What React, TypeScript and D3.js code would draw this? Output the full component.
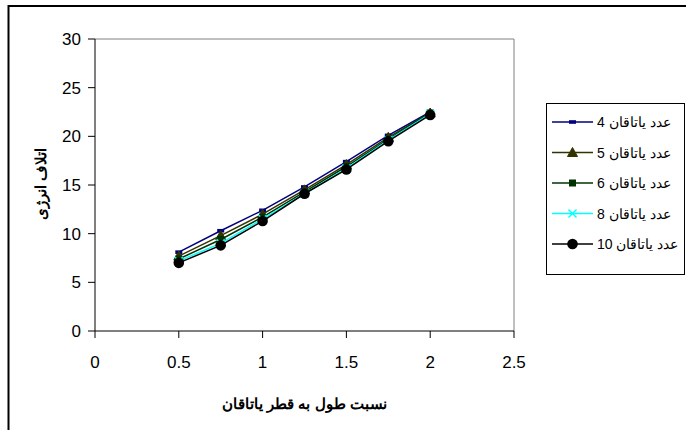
import React from "react";
import * as d3 from "d3";

const xValues = [0.5, 0.75, 1, 1.25, 1.5, 1.75, 2];
const s4 = [8.1, 10.3, 12.4, 14.8, 17.4, 20.1, 22.5];
const s5 = [7.7, 9.8, 12.0, 14.5, 17.1, 19.9, 22.4];
const s6 = [7.4, 9.4, 11.7, 14.3, 16.9, 19.7, 22.4];
const s8 = [7.2, 9.0, 11.5, 14.1, 16.7, 19.6, 22.3];
const s10 = [7.0, 8.8, 11.3, 14.1, 16.6, 19.5, 22.2];
const seriesNames = ["عدد یاتاقان 4", "عدد یاتاقان 5", "عدد یاتاقان 6", "عدد یاتاقان 8", "عدد یاتاقان 10"];
const seriesValues = [s4, s5, s6, s8, s10];
const seriesColors = ["#000080", "#333300", "#003300", "#00FFFF", "#000000"];
const markerTypes = ["dash", "triangle", "square", "x", "circle"];
const xTicks = [0, 0.5, 1, 1.5, 2, 2.5];
const yTicks = [0, 5, 10, 15, 20, 25, 30];
const xTitle = "نسبت طول به قطر یاتاقان";
const yTitle = "اتلاف انرژی";

function Marker({ type, cx, cy, color }: { type: string; cx: number; cy: number; color: string }) {
  if (type === "dash") return <rect x={cx - 3.5} y={cy - 1.8} width={7} height={3.6} fill={color} />;
  if (type === "triangle") {
    const p = `${cx},${cy - 5} ${cx - 5},${cy + 4} ${cx + 5},${cy + 4}`;
    return <polygon points={p} fill={color} stroke={color} />;
  }
  if (type === "square") return <rect x={cx - 3.5} y={cy - 3.5} width={7} height={7} fill={color} />;
  if (type === "x")
    return (
      <g stroke={color} strokeWidth={1.5}>
        <line x1={cx - 4} y1={cy - 4} x2={cx + 4} y2={cy + 4} />
        <line x1={cx - 4} y1={cy + 4} x2={cx + 4} y2={cy - 4} />
      </g>
    );
  return <circle cx={cx} cy={cy} r={5.3} fill={color} />;
}

export default function App() {
  const left = 95, right = 514, top = 39, bottom = 331;
  const x = d3.scaleLinear().domain([0, 2.5]).range([left, right]);
  const y = d3.scaleLinear().domain([0, 30]).range([bottom, top]);
  const line = d3
    .line<number>()
    .x((_, i) => x(xValues[i]))
    .y((d) => y(d));
  const font = "'Liberation Sans', Arial, sans-serif";
  const legX1 = 552, legX2 = 593, legY0 = 122, legStep = 30.5;

  return (
    <svg width={686} height={430} style={{ position: "absolute", left: 0, top: 0, background: "#fff" }} fontFamily={font}>
      <rect x={8.5} y={6} width={700} height={440} fill="#fff" stroke="#000" strokeWidth={2} />
      <path d={`M${left},${top}H${right}V${bottom}`} fill="none" stroke="#808080" strokeWidth={1} />
      <line x1={left} y1={top} x2={left} y2={bottom} stroke="#000" />
      <line x1={left} y1={bottom} x2={right} y2={bottom} stroke="#000" />
      {yTicks.map((t) => (
        <g key={"y" + t}>
          <line x1={left - 7} x2={left} y1={y(t)} y2={y(t)} stroke="#000" />
          <text x={81} y={y(t)} dy="0.36em" textAnchor="end" fontSize={17}>
            {t}
          </text>
        </g>
      ))}
      {xTicks.map((t) => (
        <g key={"x" + t}>
          <line x1={x(t)} x2={x(t)} y1={bottom} y2={bottom + 7} stroke="#000" />
          <text x={x(t)} y={368} textAnchor="middle" fontSize={17}>
            {t}
          </text>
        </g>
      ))}
      <text x={(left + right) / 2} y={409} textAnchor="middle" fontSize={15} fontWeight="bold">
        {xTitle}
      </text>
      <text
        transform={`translate(41,${(top + bottom) / 2 - 1}) rotate(-90)`}
        textAnchor="middle"
        dy="0.35em"
        fontSize={15}
        fontWeight="bold"
      >
        {yTitle}
      </text>
      {seriesValues.map((vals, si) => (
        <g key={"s" + si}>
          <path d={line(vals) || ""} fill="none" stroke={seriesColors[si]} strokeWidth={1.5} />
          {vals.map((v, i) => (
            <Marker key={i} type={markerTypes[si]} cx={x(xValues[i])} cy={y(v)} color={seriesColors[si]} />
          ))}
        </g>
      ))}
      <rect x={546.5} y={103.5} width={138} height={171} fill="#fff" stroke="#000" strokeWidth={1} />
      {seriesNames.map((name, si) => {
        const ly = legY0 + si * legStep;
        return (
          <g key={"l" + si}>
            <line x1={legX1} x2={legX2} y1={ly} y2={ly} stroke={seriesColors[si]} strokeWidth={1.5} />
            <Marker type={markerTypes[si]} cx={(legX1 + legX2) / 2} cy={ly} color={seriesColors[si]} />
            <text x={597} y={ly} dy="0.36em" fontSize={14}>
              {name}
            </text>
          </g>
        );
      })}
    </svg>
  );
}
